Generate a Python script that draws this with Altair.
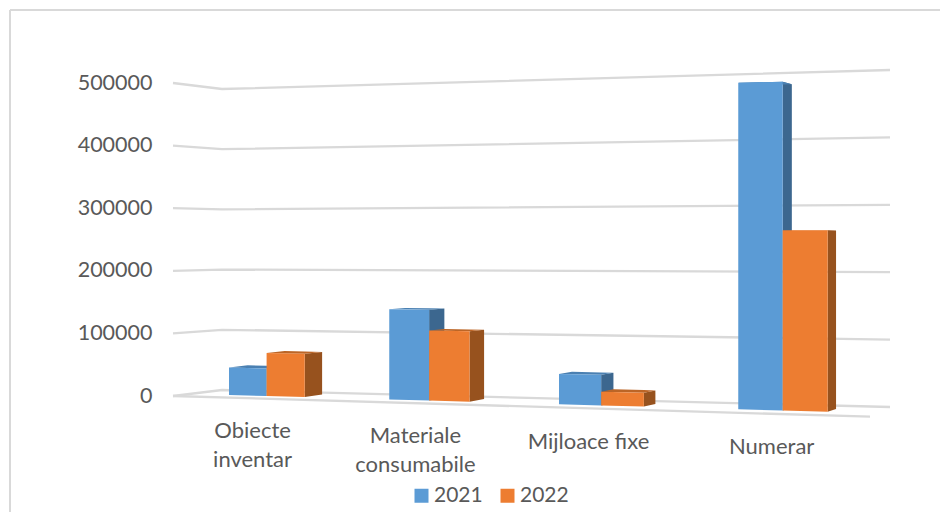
import altair as alt
import pandas as pd

# ---- values ----
CATEGORIES = ["Obiecte\ninventar", "Materiale\nconsumabile", "Mijloace fixe", "Numerar"]
SERIES = ["2021", "2022"]
VALUES_2021 = [45000, 144000, 47000, 491000]
VALUES_2022 = [70000, 111000, 21000, 269000]
TICKS = [0, 100000, 200000, 300000, 400000, 500000]

# ---- styles ----
FRONT = ["#5B9BD5", "#ED7D31"]
SIDE = ["#3C678F", "#97521E"]
TOP = ["#4A80B2", "#BC6526"]
GRID = "#D9D9D9"
TEXT = "#595959"
FONT = "Lato"
W, H = 932, 504

# ---- oblique view: turns (category, series, value) into chart units ----
K = 313 / 500000  # pixels per unit on the value axis


def up(py):
    return (396 - py) / K


def slot_x(t):
    return 229 + 155.5 * t + 4.75 * t * t


def floor_y(x):
    return 395 + (x - 229) * 0.028


def rise(x):
    return 0.00061 + (x - 229) * 1.08e-7


def front_y(x, v):
    return floor_y(x) - v * rise(x)


def depth_x(x):
    return x + 0.0172 * (1315 - x)


def back_y(x, v):
    return front_y(x, v) - 2.7 + 5.4 * v / 500000


grid_rows = []
for v in TICKS:
    grid_rows += [
        {"x": 173, "y": up(396 - 0.000626 * v), "tick": v},
        {"x": 222, "y": up(390 - 0.000602 * v), "tick": v},
        {"x": 890, "y": up(407 - 0.000674 * v), "tick": v},
    ]
grid_df = pd.DataFrame(grid_rows)
floor_df = pd.DataFrame([{"x": 173, "y": up(396)}, {"x": 870, "y": up(416.7)}])

front_rows, side_rows, top_rows = [], [], []
for s, (name, vals) in enumerate(zip(SERIES, [VALUES_2021, VALUES_2022])):
    for i, v in enumerate(vals):
        x0, x1 = slot_x(i + 0.24 * s), slot_x(i + 0.24 * (s + 1))
        bar = f"{name}-{i}"
        bx0, bx1 = depth_x(x0), depth_x(x1)
        for x in (x0, x1):
            front_rows.append({"x": x, "y": up(front_y(x, v)), "y2": up(floor_y(x)), "series": name, "bar": bar})
        side_rows.append({"x": x1, "y": up(front_y(x1, v)), "y2": up(floor_y(x1)), "series": name, "bar": bar})
        side_rows.append({"x": bx1, "y": up(back_y(x1, v)), "y2": up(floor_y(x1) - 2.7), "series": name, "bar": bar})
        yt0, yt1 = front_y(x0, v), front_y(x1, v)
        yb0, yb1 = back_y(x0, v), back_y(x1, v)
        front_at = lambda x: yt0 + (yt1 - yt0) * (x - x0) / (x1 - x0)
        back_at = lambda x: yb0 + (yb1 - yb0) * (x - bx0) / (bx1 - bx0)
        top_rows += [
            {"x": x0, "y": up(yt0), "y2": up(yt0), "series": name, "bar": bar},
            {"x": bx0, "y": up(front_at(bx0)), "y2": up(yb0), "series": name, "bar": bar},
            {"x": x1, "y": up(yt1), "y2": up(back_at(x1)), "series": name, "bar": bar},
            {"x": bx1, "y": up(yb1), "y2": up(yb1), "series": name, "bar": bar},
        ]
front_df = pd.DataFrame(front_rows)
side_df = pd.DataFrame(side_rows)
top_df = pd.DataFrame(top_rows)

label_df = pd.DataFrame(
    [
        {"x": slot_x(i + 0.24) - 14 + 0.33 * i * i, "y": up(431 + 5.4 * i - 10), "text": c}
        for i, c in enumerate(CATEGORIES)
    ]
)

# ---- scales ----
xs = alt.Scale(domain=[8, 8 + W], range=[0, W], nice=False, zero=False)
ys = alt.Scale(domain=[up(8 + H), up(8)], nice=False, zero=False)
y_axis = alt.Axis(
    values=TICKS,
    title=None,
    domain=False,
    ticks=False,
    grid=False,
    offset=-144,
    labelPadding=0,
    labelFont=FONT,
    labelFontSize=21.5,
    labelColor=TEXT,
    format="d",
)
X = alt.X("x:Q", scale=xs, axis=None)
Y = alt.Y("y:Q", scale=ys, axis=y_axis)

border_top = alt.Chart(pd.DataFrame({"a": [0]})).mark_rule(color=GRID, strokeWidth=2).encode(
    x=alt.value(2), x2=alt.value(W), y=alt.value(2)
)
border_left = alt.Chart(pd.DataFrame({"a": [0]})).mark_rule(color=GRID, strokeWidth=2).encode(
    x=alt.value(2), y=alt.value(2), y2=alt.value(H)
)

grid = alt.Chart(grid_df).mark_line(color=GRID, strokeWidth=2.3).encode(x=X, y=Y, detail="tick:N")
floor = alt.Chart(floor_df).mark_line(color=GRID, strokeWidth=2.3).encode(x=X, y=Y)

depth_layers = []
for s, name in enumerate(SERIES):
    for df, col in ((side_df, SIDE[s]), (top_df, TOP[s])):
        depth_layers.append(
            alt.Chart(df[df["series"] == name])
            .mark_area(color=col, orient="vertical")
            .encode(x=X, y=Y, y2="y2:Q", detail="bar:N")
        )

fronts = alt.Chart(front_df).mark_area(orient="vertical").encode(
    x=X,
    y=Y,
    y2="y2:Q",
    detail="bar:N",
    color=alt.Color(
        "series:N",
        scale=alt.Scale(domain=SERIES, range=FRONT),
        legend=alt.Legend(
            title=None,
            orient="none",
            direction="horizontal",
            legendX=403,
            legendY=477,
            symbolType="square",
            symbolSize=196,
            symbolStrokeWidth=0,
            labelFont=FONT,
            labelFontSize=21,
            labelColor=TEXT,
            labelOffset=2,
            columnPadding=14,
        ),
    ),
)

labels = alt.Chart(label_df).mark_text(
    align="center", baseline="top", lineBreak="\n", lineHeight=29, font=FONT, fontSize=22, color=TEXT
).encode(x=X, y=Y, text="text:N")

chart = alt.layer(border_top, border_left, grid, floor, *depth_layers, fronts, labels).properties(
    width=W, height=H, padding=0, autosize=alt.AutoSizeParams(type="none")
).configure_view(stroke=None)

chart.save("out.html", embed_options={"renderer": "svg", "actions": False})
